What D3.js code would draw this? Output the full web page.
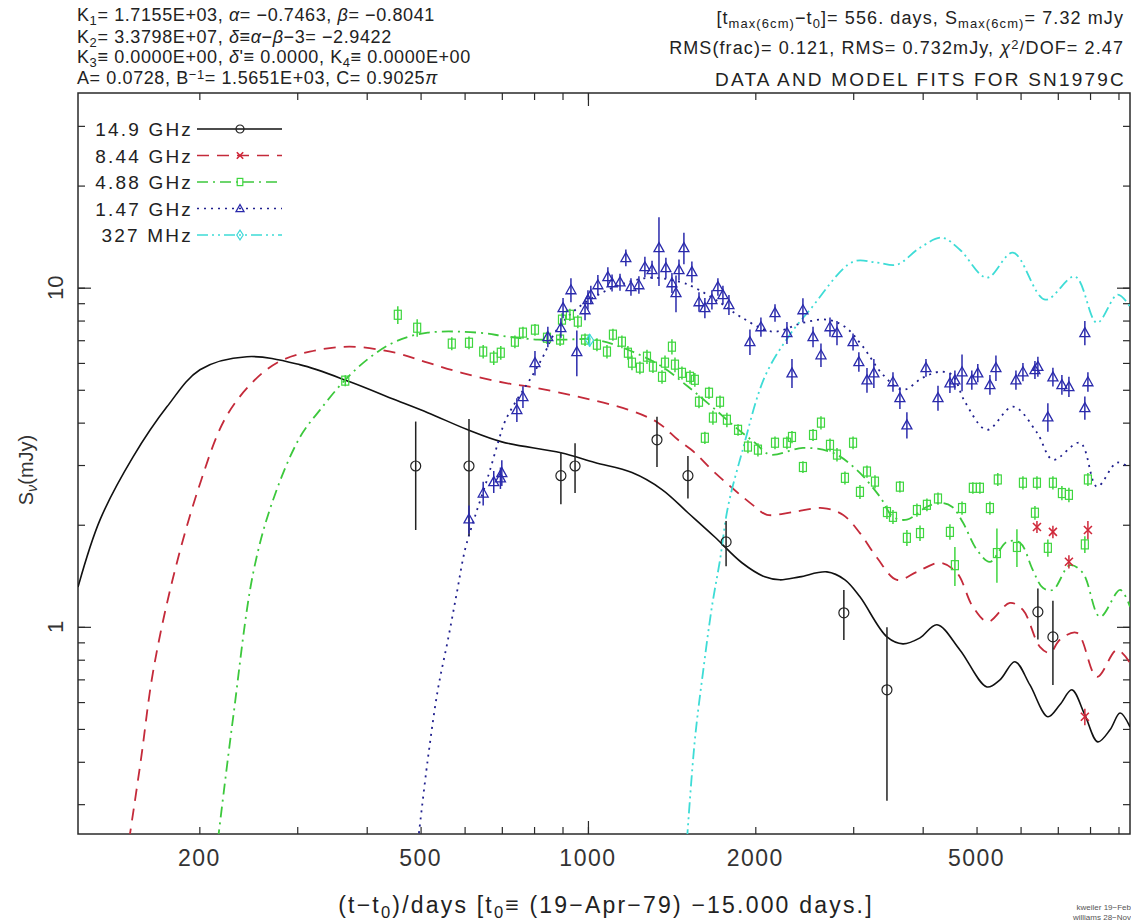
<!DOCTYPE html>
<html>
<head>
<meta charset="utf-8">
<script src="https://cdn.jsdelivr.net/npm/d3@7"></script>
<style>
  body { margin: 0; background: #fff; }
  svg { display: block; font-family: "Liberation Sans", Arial, sans-serif; }
</style>
</head>
<body>
<svg width="1131" height="923"></svg>
<script>
"use strict";

// axis ranges and labels
var xDomain = [121, 9440],
    yDomain = [0.245, 37.5],
    xLabels = [200, 500, 1000, 2000, 5000],
    xMajor = [1000],
    yLabels = [1, 10];

// observations: [days, flux mJy, error mJy]
var obs149 = [[490,2.98,1.05],[611,2.98,1.12],[894,2.79,0.49],[948,2.98,0.5],[1331,3.56,0.6],
  [1513,2.79,0.4],[1772,1.78,0.27],[2886,1.10,0.185],[3450,0.652,0.345],[6446,1.107,0.19],[6860,0.934,0.26]];

var obs844 = [[6421,1.97,0.08],[6860,1.905,0.08],[7330,1.555,0.07],[7930,1.93,0.12],[7830,0.543,0.03]];

var obs488 = [[366,5.32,0.2],[455,8.32,0.5],[493,7.62,0.45],[569,6.84,0.3],[611,6.88,0.3],[648,6.48,0.3],
  [677,6.22,0.3],[697,6.43,0.3],[739,6.93,0.3],[764,7.37,0.3],[803,7.52,0.3],[844,7.12,0.3],[891,7.03,0.3],
  [898,8.05,0.35],[928,8.32,0.35],[959,7.94,0.35],[988,7.03,0.3],[1038,6.79,0.3],[1082,6.48,0.3],[1109,7.27,0.3],
  [1151,6.93,0.3],[1180,6.43,0.3],[1200,6.01,0.3],[1240,5.81,0.25],[1277,6.26,0.3],[1309,5.85,0.25],
  [1359,5.46,0.25],[1376,6.01,0.3],[1416,6.70,0.35],[1434,5.93,0.3],[1476,5.61,0.25],[1526,5.46,0.25],
  [1557,5.35,0.25],[1584,4.61,0.2],[1623,3.61,0.15],[1651,4.90,0.2],[1678,4.14,0.2],[1728,4.61,0.2],
  [1778,4.08,0.2],[1862,3.81,0.15],[1940,3.40,0.15],[2022,3.33,0.15],[2170,3.49,0.15],[2280,3.49,0.15],
  [2328,3.63,0.15],[2436,2.96,0.12],[2540,3.68,0.15],[2625,4.00,0.18],[2725,3.44,0.15],[2805,3.22,0.15],
  [2998,3.49,0.15],[2899,2.75,0.12],[3085,2.50,0.12],[3176,2.87,0.12],[3283,2.68,0.12],[3640,2.59,0.1],
  [3450,2.18,0.1],[3537,2.11,0.1],[3747,1.83,0.1],[3906,2.21,0.1],[3956,1.89,0.1],[4071,2.29,0.1],
  [4262,2.39,0.1],[4478,1.905,0.1],[4571,1.52,0.2],[4708,2.24,0.1],[4924,2.57,0.1],[5070,2.57,0.1],
  [5285,2.24,0.1],[5440,1.65,0.3],[5460,2.72,0.12],[5910,1.72,0.22],[6059,2.66,0.12],[6421,2.66,0.12],
  [6368,2.17,0.1],[6718,1.71,0.1],[6860,2.66,0.12],[7120,2.48,0.12],[7330,2.45,0.12],[7830,1.75,0.1],
  [7930,2.72,0.12]];

var obs147 = [[611,2.08,0.2],[648,2.48,0.2],[677,2.68,0.2],[700,2.85,0.25],[696,2.75,0.2],[745,4.37,0.35],
  [764,4.77,0.35],[803,6.01,0.5],[847,7.17,0.5],[894,7.62,0.5],[902,8.73,0.6],[932,9.86,0.8],[955,6.48,1.0],
  [988,8.61,0.6],[1000,9.22,0.6],[1012,9.54,0.6],[1042,10.2,0.7],[1086,10.78,0.7],[1105,10.34,0.6],
  [1142,10.4,0.6],[1170,12.26,0.7],[1195,10.07,0.6],[1235,10.2,0.6],[1266,11.53,0.8],[1304,11.3,0.7],
  [1342,13.12,3.0],[1381,11.46,0.8],[1416,10.34,0.7],[1440,9.67,1.2],[1458,11.3,0.8],[1488,13.12,1.4],
  [1538,11.15,0.8],[1584,9.09,0.6],[1623,8.73,0.6],[1671,9.22,0.6],[1713,10.07,0.6],[1749,9.54,0.6],
  [1793,8.91,0.6],[1956,6.93,0.6],[2047,7.67,0.5],[2170,8.44,0.5],[2280,7.37,0.55],[2328,5.61,0.55],
  [2436,8.61,0.7],[2540,7.17,0.5],[2625,6.34,0.5],[2725,7.67,0.5],[2805,7.37,0.6],[2998,6.93,0.4],
  [3071,6.05,0.4],[3176,5.35,0.45],[3268,5.61,0.55],[3537,5.28,0.35],[3640,4.74,0.35],[3747,3.94,0.35],
  [4055,5.81,0.35],[4262,4.74,0.4],[4478,5.24,0.35],[4571,5.35,0.35],[4708,5.65,0.7],[4903,5.35,0.35],
  [5026,5.61,0.35],[5285,5.18,0.35],[5418,5.81,0.5],[5886,5.35,0.35],[6059,5.65,0.35],[6368,5.73,0.35],
  [6446,5.86,0.4],[6718,4.16,0.4],[6860,5.46,0.35],[7120,5.18,0.35],[7330,5.11,0.35],[7830,7.37,0.6],
  [7830,4.43,0.35],[7930,5.28,0.35]];

var obs327 = [[1007,7.0,0.3]];

// model fits: [days, flux mJy]
var fit149 = [[121,1.31],[132.6,2.07],[152,3.17],[175,4.46],[200.5,5.73],[243.6,6.26],[303,5.93],
  [373,5.28],[450,4.67],[515,4.28],[608,3.81],[700,3.51],[894,3.26],[1029,3.05],[1200,2.85],[1359,2.54],
  [1513,2.17],[1691,1.84],[1892,1.545],[2080,1.404],[2214,1.376],[2404,1.404],[2690,1.452],[2899,1.376],
  [3085,1.226],[3450,0.934],[3686,0.891],[3956,0.928],[4244,1.014],[4667,0.855],[5220,0.665],[5509,0.698],
  [5860,0.789],[6237,0.674],[6718,0.543],[7060,0.589],[7421,0.652],[7830,0.55],[8260,0.458],[8690,0.497],
  [9060,0.557],[9440,0.507]];

var fit844 = [[149.5,0.235],[157,0.405],[165,0.732],[179,1.376],[199,2.54],[222,4.08],[247,5.18],[276,6.01],
  [316,6.48],[373,6.70],[450,6.43],[515,6.01],[593,5.61],[709,5.24],[803,5.07],[959,4.77],[1180,4.37],
  [1336,4.0],[1452,3.56],[1557,3.26],[1691,2.85],[1997,2.26],[2099,2.14],[2337,2.18],[2647,2.24],[2874,2.14],
  [3085,1.89],[3311,1.598],[3595,1.376],[3906,1.452],[4296,1.545],[4610,1.443],[4924,1.146],[5241,1.035],
  [5740,1.177],[6059,1.122],[6500,0.873],[6776,0.838],[7060,0.916],[7577,0.960],[8233,0.712],[8944,0.855],
  [9440,0.783]];

var fit488 = [[216,0.235],[230,0.539],[250,1.443],[271,2.35],[303,3.61],[330,4.37],[366,5.35],[405,6.22],
  [450,6.93],[515,7.37],[634,7.37],[718,7.17],[813,7.03],[909,7.03],[1029,7.03],[1180,6.56],[1359,5.85],
  [1513,5.11],[1671,4.46],[1838,3.89],[1997,3.49],[2125,3.22],[2436,3.37],[2758,3.26],[3046,2.90],[3350,2.42],
  [3537,2.11],[3747,2.07],[4071,2.26],[4296,2.32],[4516,2.26],[4726,2.03],[5007,1.687],[5285,1.555],
  [5670,1.78],[5985,1.77],[6310,1.472],[6580,1.303],[6860,1.285],[7360,1.52],[7765,1.443],[8337,1.07],
  [9060,1.285],[9440,1.146]];

var fit147 = [[495,0.235],[515,0.405],[537,0.652],[560,0.916],[581,1.26],[601,1.687],[626,2.11],[661,2.77],
  [689,3.49],[709,4.03],[745,4.67],[786,5.35],[830,6.26],[872,7.37],[936,8.44],[1029,9.41],[1142,10.2],
  [1293,10.7],[1464,10.4],[1557,10.0],[1728,9.03],[1892,8.16],[2151,7.42],[2436,7.88],[2690,8.05],[2899,7.67],
  [3123,6.70],[3393,5.54],[3686,5.0],[4004,5.43],[4296,5.65],[4516,5.54],[4765,4.61],[5220,3.81],[5813,4.46],
  [6421,3.74],[6860,3.11],[7674,3.49],[8233,2.59],[8944,3.05],[9440,2.94]];

var fit327 = [[1507,0.235],[1557,0.464],[1610,0.732],[1671,1.146],[1728,1.576],[1786,2.26],[1892,3.26],
  [2080,5.46],[2308,7.27],[2508,8.61],[2998,11.93],[3311,11.85],[3595,11.69],[3956,13.12],[4332,14.04],
  [4667,12.94],[5220,10.7],[5813,12.68],[6640,9.22],[7516,10.78],[8233,7.88],[8970,9.54],[9440,8.79]];

var series = [
  {name: "14.9 GHz", color: "#111", mark: "#222", dash: null, symbol: "circle", obs: obs149, fit: fit149},
  {name: "8.44 GHz", color: "#c42a3a", mark: "#d0283a", dash: "12,8", symbol: "cross", obs: obs844, fit: fit844},
  {name: "4.88 GHz", color: "#3cc83c", mark: "#3fd63f", dash: "11,5,2,5", symbol: "square", obs: obs488, fit: fit488},
  {name: "1.47 GHz", color: "#20208e", mark: "#2a2aac", dash: "2,5", symbol: "triangle", obs: obs147, fit: fit147},
  {name: "327 MHz", color: "#3edcd6", mark: "#3ed8d8", dash: "11,4,2,4,2,4", symbol: "diamond", obs: obs327, fit: fit327}
];

var svg = d3.select("svg"),
    pLeft = 78, pRight = 1130, pTop = 93, pBottom = 834,
    ink = "#2a2a2a";

var x = d3.scaleLog().domain(xDomain).range([pLeft, pRight]),
    y = d3.scaleLog().domain(yDomain).range([pBottom, pTop]);

svg.append("clipPath").attr("id", "plot")
  .append("rect").attr("x", pLeft).attr("y", pTop)
  .attr("width", pRight - pLeft).attr("height", pBottom - pTop);

// ticks on all four sides, pointing inwards
function ticks(axis, pos, size, values) {
  var g = svg.append("g").attr("transform", pos)
    .call(axis.tickValues(values).tickSize(-size).tickFormat(""));
  g.select(".domain").remove();
  g.selectAll("line").attr("stroke", ink).attr("stroke-width", 1.2);
}
var xMinor = x.ticks(), yMinor = y.ticks();
ticks(d3.axisBottom(x), "translate(0," + pBottom + ")", 7, xMinor);
ticks(d3.axisBottom(x), "translate(0," + pBottom + ")", 13, xMajor);
ticks(d3.axisTop(x), "translate(0," + pTop + ")", 7, xMinor);
ticks(d3.axisTop(x), "translate(0," + pTop + ")", 13, xMajor);
ticks(d3.axisLeft(y), "translate(" + pLeft + ",0)", 7, yMinor);
ticks(d3.axisLeft(y), "translate(" + pLeft + ",0)", 13, yLabels);
ticks(d3.axisRight(y), "translate(" + pRight + ",0)", 7, yMinor);
ticks(d3.axisRight(y), "translate(" + pRight + ",0)", 13, yLabels);

svg.append("rect").attr("x", pLeft).attr("y", pTop)
  .attr("width", pRight - pLeft).attr("height", pBottom - pTop)
  .attr("fill", "none").attr("stroke", ink).attr("stroke-width", 1.5);

svg.append("g").selectAll("text").data(xLabels).enter().append("text")
  .attr("x", function(d) { return x(d); })
  .attr("y", 866)
  .attr("text-anchor", "middle")
  .attr("font-size", 23).attr("fill", "#333").attr("letter-spacing", 1.5)
  .text(function(d) { return d; });

svg.append("g").selectAll("text").data(yLabels).enter().append("text")
  .attr("transform", function(d) { return "translate(63," + y(d) + ") rotate(-90)"; })
  .attr("text-anchor", "middle")
  .attr("font-size", 22).attr("fill", "#333")
  .text(function(d) { return d; });

// text with sub/superscripts and italic parts
function rich(parts, px, py, size, anchor, spacing) {
  var t = svg.append("text").attr("x", px).attr("y", py)
    .attr("font-size", size).attr("fill", "#222")
    .attr("text-anchor", anchor || "start")
    .attr("letter-spacing", spacing || 0);
  parts.forEach(function(p) {
    var s = t.append("tspan").text(p[0]);
    if (p[1] === "sub") s.attr("baseline-shift", "-28%").attr("font-size", "72%");
    if (p[1] === "sup") s.attr("baseline-shift", "42%").attr("font-size", "72%");
    if (p[1] === "i") s.attr("font-style", "italic");
  });
  return t;
}

rich([["K"], ["1", "sub"], ["= 1.7155E+03, "], ["α", "i"], ["= −0.7463, "], ["β", "i"], ["= −0.8041"]], 77, 21, 18, "start", 0.6);
rich([["K"], ["2", "sub"], ["= 3.3798E+07, "], ["δ", "i"], ["≡"], ["α", "i"], ["−"], ["β", "i"], ["−3= −2.9422"]], 77, 43, 18, "start", 0.6);
rich([["K"], ["3", "sub"], ["≡ 0.0000E+00, "], ["δ", "i"], ["'≡ 0.0000, K"], ["4", "sub"], ["≡ 0.0000E+00"]], 77, 63, 18, "start", 0.6);
rich([["A= 0.0728, B"], ["−1", "sup"], ["= 1.5651E+03, C= 0.9025"], ["π", "i"]], 77, 84, 18, "start", 0.6);

rich([["[t"], ["max(6cm)", "sub"], ["−t"], ["0", "sub"], ["]= 556. days, S"], ["max(6cm)", "sub"], ["= 7.32 mJy"]], 1124, 24, 18, "end", 1.1);
rich([["RMS(frac)= 0.121, RMS= 0.732mJy, "], ["χ", "i"], ["2", "sup"], ["/DOF= 2.47"]], 1124, 54, 18, "end", 1.1);
rich([["DATA AND MODEL FITS FOR SN1979C"]], 1126, 86, 19, "end", 2.2);

rich([["(t−t"], ["0", "sub"], [")/days [t"], ["0", "sub"], ["≡ (19−Apr−79) −15.000 days.]"]], 606, 913, 23, "middle", 2.2);

svg.append("text")
  .attr("transform", "translate(33,470) rotate(-90)")
  .attr("text-anchor", "middle").attr("font-size", 20).attr("fill", "#333")
  .call(function(t) {
    t.append("tspan").text("S");
    t.append("tspan").text("ν").attr("font-style", "italic").attr("font-size", "72%").attr("baseline-shift", "-28%");
    t.append("tspan").text("(mJy)");
  });

svg.append("text").attr("x", 1131).attr("y", 910).attr("text-anchor", "end")
  .attr("font-size", 8).attr("fill", "#555").text("kweiler 19−Feb");
svg.append("text").attr("x", 1131).attr("y", 920).attr("text-anchor", "end")
  .attr("font-size", 8).attr("fill", "#555").text("williams 28−Nov");

// markers
function marker(g, type, color, size) {
  var s = size || 1;
  if (type === "circle") {
    g.append("circle").attr("r", 5 * s).attr("fill", "none").attr("stroke", color).attr("stroke-width", 1.2);
  } else if (type === "cross") {
    g.append("path").attr("d", "M" + (-4 * s) + "," + (-4 * s) + "L" + (4 * s) + "," + (4 * s) +
        "M" + (-4 * s) + "," + (4 * s) + "L" + (4 * s) + "," + (-4 * s))
      .attr("stroke", color).attr("stroke-width", 1.6);
  } else if (type === "square") {
    g.append("rect").attr("x", -3.5 * s).attr("y", -4.5 * s).attr("width", 7 * s).attr("height", 9 * s)
      .attr("fill", "none").attr("stroke", color).attr("stroke-width", 1.2);
  } else if (type === "triangle") {
    g.append("path").attr("d", "M0," + (-5 * s) + "L" + (5 * s) + "," + (4 * s) + "L" + (-5 * s) + "," + (4 * s) + "Z")
      .attr("fill", "none").attr("stroke", color).attr("stroke-width", 1.3);
  } else if (type === "diamond") {
    g.append("path").attr("d", "M0," + (-6 * s) + "L" + (4 * s) + ",0L0," + (6 * s) + "L" + (-4 * s) + ",0Z")
      .attr("fill", "none").attr("stroke", color).attr("stroke-width", 1.2);
  }
}

var line = d3.line()
  .x(function(d) { return x(d[0]); })
  .y(function(d) { return y(d[1]); })
  .curve(d3.curveCatmullRom.alpha(0.5));

var plot = svg.append("g").attr("clip-path", "url(#plot)");

series.forEach(function(s) {
  plot.append("path").datum(s.fit)
    .attr("d", line)
    .attr("fill", "none")
    .attr("stroke", s.color)
    .attr("stroke-width", s.symbol === "circle" ? 1.6 : 1.8)
    .attr("stroke-dasharray", s.dash);
});

series.forEach(function(s) {
  var pts = plot.append("g").selectAll("g").data(s.obs).enter().append("g")
    .attr("transform", function(d) { return "translate(" + x(d[0]) + "," + y(d[1]) + ")"; });
  pts.append("line")
    .attr("y1", function(d) { return y(Math.max(d[1] - d[2], yDomain[0] * 0.9)) - y(d[1]); })
    .attr("y2", function(d) { return y(d[1] + d[2]) - y(d[1]); })
    .attr("stroke", s.mark).attr("stroke-width", 1.5);
  pts.each(function() { marker(d3.select(this), s.symbol, s.mark); });
});

// legend
var legend = svg.append("g");
series.forEach(function(s, i) {
  var cy = 129 + i * 26.5;
  legend.append("text").attr("x", 193).attr("y", cy + 7)
    .attr("text-anchor", "end").attr("font-size", 19).attr("letter-spacing", 2.2).attr("fill", "#222")
    .text(s.name);
  legend.append("line").attr("x1", 197).attr("x2", 282).attr("y1", cy).attr("y2", cy)
    .attr("stroke", s.color).attr("stroke-width", 1.6).attr("stroke-dasharray", s.dash);
  marker(legend.append("g").attr("transform", "translate(240," + cy + ")"), s.symbol, s.mark, 0.8);
});
</script>
</body>
</html>
